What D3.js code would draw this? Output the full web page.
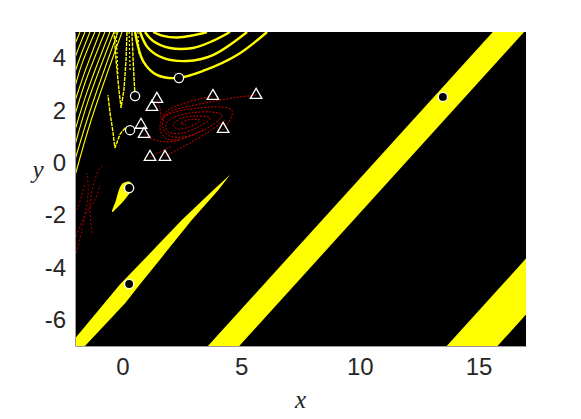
<!DOCTYPE html>
<html>
<head>
<meta charset="utf-8">
<script src="https://cdn.jsdelivr.net/npm/d3@7"></script>
<style>
  body { margin: 0; background: #fff; }
  svg { display: block; }
  .tick text { font-family: "Liberation Sans", Arial, sans-serif; font-size: 24px; fill: #262626; }
  .axlabel { font-family: "Liberation Serif", "Times New Roman", serif; font-style: italic; font-size: 25px; fill: #262626; }
</style>
</head>
<body>
<svg id="chart" width="581" height="419"></svg>
<script>
// axis ranges and ticks
let xDomain = [-2, 17];
let yDomain = [-7, 5];
let xTicks = [0, 5, 10, 15];
let yTicks = [-6, -4, -2, 0, 2, 4];

// filled yellow regions
let bandMain = [[3.6, -7], [15.6, 5], [16.92, 5], [4.92, -7]];
let bandRight = [[13.66, -7], [17, -3.66], [17, -5.8], [15.8, -7]];
let bandLeft = [[-2, -6.71], [-0.10, -4.64], [1.16, -3.46], [2.50, -2.18], [3.83, -1.04], [4.53, -0.46],
    [4.04, -1.04], [2.92, -2.18], [1.79, -3.46], [0.74, -4.64], [0.11, -5.37], [-1.58, -7], [-2, -7]];
let blob = [[-0.44, -1.88], [-0.27, -1.42], [-0.15, -1.04], [-0.02, -0.81], [0.15, -0.73], [0.32, -0.73],
    [0.44, -0.85], [0.40, -1.04], [0.15, -1.34], [-0.15, -1.65]];

// yellow trajectories, top arcs
let arcs = [
    [[0.53, 5], [0.87, 3.89], [1.45, 3.36], [2.30, 3.24], [3.39, 3.51], [4.83, 4.12], [6.09, 5]],
    [[0.74, 5], [1.08, 4.39], [1.71, 4.01], [2.72, 3.89], [3.81, 4.12], [5.25, 5]],
    [[0.95, 5], [1.29, 4.66], [2.00, 4.39], [2.97, 4.39], [3.81, 4.66], [4.53, 5]],
    [[1.29, 5], [1.71, 4.85], [2.30, 4.79], [2.97, 4.87], [3.56, 5]]
];

// yellow trajectories, left fan
let fan = [
    [[-2, 4.54], [-1.79, 5]],
    [[-2, 4.01], [-1.83, 4.43], [-1.58, 5]],
    [[-2, 3.47], [-1.75, 4.12], [-1.37, 5]],
    [[-2, 2.90], [-1.71, 3.78], [-1.16, 5]],
    [[-2, 2.36], [-1.62, 3.39], [-0.95, 5]],
    [[-2, 1.83], [-1.58, 3.05], [-0.74, 5]],
    [[-2, 1.25], [-1.49, 2.71], [-0.53, 5]],
    [[-2, 0.68], [-1.45, 2.36], [-0.36, 5]],
    [[-2, 0.11], [-1.37, 1.98], [-0.19, 5]],
    [[-2, -0.50], [-1.33, 1.60], [-0.02, 5]]
];
let hooks = [
    [[0.19, 5], [0.15, 3.93], [0.06, 2.78], [-0.06, 2.10], [-0.15, 2.78], [-0.27, 3.93], [-0.36, 5]],
    [[0.53, 2.55], [0.49, 3.17], [0.44, 4.12], [0.40, 5]],
    [[0.32, 1.25], [0.11, 1.33], [-0.10, 1.10], [-0.32, 0.57], [-0.40, 1.18], [-0.53, 1.94], [-0.61, 2.59]]
];
let dashes = [
    [[-0.27, 5], [-0.19, 3.36]],
    [[0.28, 5], [0.32, 3.55]],
    [[0.65, 5], [0.70, 4.12]]
];

// red trajectories
let spiral = [
    [[4.24, 1.25], [4.57, 1.71], [4.61, 2.02], [4.19, 2.13], [3.27, 2.10], [2.21, 1.94], [1.71, 1.71], [1.58, 1.33],
        [1.75, 0.99], [2.21, 0.87], [3.06, 1.10], [3.90, 1.52], [4.19, 1.83], [3.77, 1.94], [2.85, 1.90], [2.09, 1.71],
        [1.83, 1.45], [1.92, 1.18], [2.51, 1.14], [3.35, 1.45], [3.69, 1.71], [3.10, 1.79], [2.42, 1.68], [2.13, 1.45],
        [2.34, 1.29], [3.01, 1.45], [3.27, 1.64], [2.76, 1.64], [2.47, 1.52], [2.68, 1.45]],
    [[5.63, 2.59], [4.95, 2.52], [3.90, 2.36], [2.85, 2.17], [2.09, 1.98], [1.75, 1.71], [1.71, 1.33], [2.00, 1.03],
        [2.63, 0.99], [3.48, 1.29]],
    [[3.81, 2.55], [3.27, 2.44], [2.51, 2.25], [1.92, 2.02], [1.62, 1.64]],
    [[1.45, 2.44], [1.58, 2.10], [1.62, 1.75]],
    [[0.91, 1.10], [1.24, 0.91], [1.79, 0.80], [2.42, 0.87]],
    [[1.79, 0.22], [2.21, 0.45], [2.85, 0.76], [3.69, 1.22], [4.32, 1.64]],
    [[1.16, 0.22], [1.58, 0.41], [2.09, 0.64]]
];
let redLeft = [
    [[-2, -3.60], [-1.71, -2.57], [-1.45, -1.15], [-1.49, -0.39]],
    [[-1.92, -1.80], [-1.71, -1.23], [-1.58, -0.77]],
    [[-1.28, -2.68], [-1.37, -1.80], [-1.28, -1.04], [-0.99, -0.27], [-0.78, -0.08]],
    [[-2, -2.95], [-1.58, -1.99], [-1.16, -1.42], [-0.95, -0.85]]
];

// start points
let circles = [[2.38, 3.24], [0.53, 2.55], [0.32, 1.25], [0.28, -0.96], [0.28, -4.63], [13.5, 2.52]];
let triangles = [[1.45, 2.44], [1.24, 2.13], [0.78, 1.45], [0.91, 1.10], [1.16, 0.22], [1.79, 0.22],
    [3.81, 2.55], [5.63, 2.59], [4.24, 1.29]];

let svg = d3.select('#chart');
let plotLeft = 75, plotRight = 526, plotTop = 32, plotBottom = 346;

let x = d3.scaleLinear().domain(xDomain).range([plotLeft, plotRight]);
let y = d3.scaleLinear().domain(yDomain).range([plotBottom, plotTop]);

svg.append('defs').append('clipPath').attr('id', 'plot')
    .append('rect')
    .attr('x', x(xDomain[0])).attr('y', y(yDomain[1]))
    .attr('width', x(xDomain[1]) - x(xDomain[0]))
    .attr('height', y(yDomain[0]) - y(yDomain[1]));

let g = svg.append('g').attr('clip-path', 'url(#plot)');

g.append('rect')
    .attr('x', x(xDomain[0])).attr('y', y(yDomain[1]))
    .attr('width', x(xDomain[1]) - x(xDomain[0]))
    .attr('height', y(yDomain[0]) - y(yDomain[1]))
    .attr('fill', '#000');

let straight = d3.line().x(d => x(d[0])).y(d => y(d[1]));
let smooth = d3.line().x(d => x(d[0])).y(d => y(d[1])).curve(d3.curveCatmullRom.alpha(0.5));
let closed = d3.line().x(d => x(d[0])).y(d => y(d[1])).curve(d3.curveLinearClosed);
let closedSmooth = d3.line().x(d => x(d[0])).y(d => y(d[1])).curve(d3.curveCatmullRomClosed.alpha(0.5));

g.selectAll('path.band')
    .data([bandMain, bandRight, bandLeft])
    .enter().append('path')
    .attr('class', 'band')
    .attr('d', closed)
    .attr('fill', '#ffff00');

g.append('path')
    .attr('d', closedSmooth(blob))
    .attr('fill', '#ffff00');

g.selectAll('path.arc')
    .data(arcs)
    .enter().append('path')
    .attr('class', 'arc')
    .attr('d', smooth)
    .attr('fill', 'none')
    .attr('stroke', '#ffff00')
    .attr('stroke-width', 2.4);

g.selectAll('path.fan')
    .data(fan)
    .enter().append('path')
    .attr('class', 'fan')
    .attr('d', smooth)
    .attr('fill', 'none')
    .attr('stroke', '#ffff00')
    .attr('stroke-width', 1.1);

g.selectAll('path.hook')
    .data(hooks)
    .enter().append('path')
    .attr('class', 'hook')
    .attr('d', straight)
    .attr('fill', 'none')
    .attr('stroke', '#ffff00')
    .attr('stroke-width', 1.4)
    .attr('stroke-dasharray', '4,1');

g.selectAll('path.dash')
    .data(dashes)
    .enter().append('path')
    .attr('class', 'dash')
    .attr('d', straight)
    .attr('fill', 'none')
    .attr('stroke', '#ffff00')
    .attr('stroke-width', 1.2)
    .attr('stroke-dasharray', '2,2');

g.selectAll('path.spiral')
    .data(spiral)
    .enter().append('path')
    .attr('class', 'spiral')
    .attr('d', smooth)
    .attr('fill', 'none')
    .attr('stroke', '#d80000')
    .attr('stroke-width', 1)
    .attr('stroke-dasharray', '2,1.5');

g.selectAll('path.redleft')
    .data(redLeft)
    .enter().append('path')
    .attr('class', 'redleft')
    .attr('d', smooth)
    .attr('fill', 'none')
    .attr('stroke', '#b00000')
    .attr('stroke-width', 1)
    .attr('stroke-dasharray', '2,2');

g.selectAll('circle.start')
    .data(circles)
    .enter().append('circle')
    .attr('class', 'start')
    .attr('cx', d => x(d[0]))
    .attr('cy', d => y(d[1]))
    .attr('r', 4.6)
    .attr('fill', '#000')
    .attr('stroke', '#fff')
    .attr('stroke-width', 1.3);

g.selectAll('path.tri')
    .data(triangles)
    .enter().append('path')
    .attr('class', 'tri')
    .attr('transform', d => 'translate(' + x(d[0]) + ',' + y(d[1]) + ')')
    .attr('d', d3.symbol(d3.symbolTriangle, 58))
    .attr('fill', 'none')
    .attr('stroke', '#fff')
    .attr('stroke-width', 1.3);

let xAxis = svg.append('g')
    .attr('transform', 'translate(0,' + plotBottom + ')')
    .call(d3.axisBottom(x).tickValues(xTicks).tickSize(0).tickPadding(12).tickFormat(d3.format('d')));
let yAxis = svg.append('g')
    .attr('transform', 'translate(' + plotLeft + ',0)')
    .call(d3.axisLeft(y).tickValues(yTicks).tickSize(0).tickPadding(9).tickFormat(d3.format('d')));

[xAxis, yAxis].forEach(a => {
    a.select('.domain').attr('stroke', '#9a9a9a').attr('stroke-width', 1);
    a.selectAll('.tick line').remove();
});
yAxis.selectAll('.tick text').text(d => d < 0 ? '-' + Math.abs(d) : d);

svg.append('text')
    .attr('class', 'axlabel')
    .attr('x', (plotLeft + plotRight) / 2)
    .attr('y', 408)
    .attr('text-anchor', 'middle')
    .text('x');

svg.append('text')
    .attr('class', 'axlabel')
    .attr('x', 38)
    .attr('y', 178)
    .attr('text-anchor', 'middle')
    .text('y');
</script>
</body>
</html>
